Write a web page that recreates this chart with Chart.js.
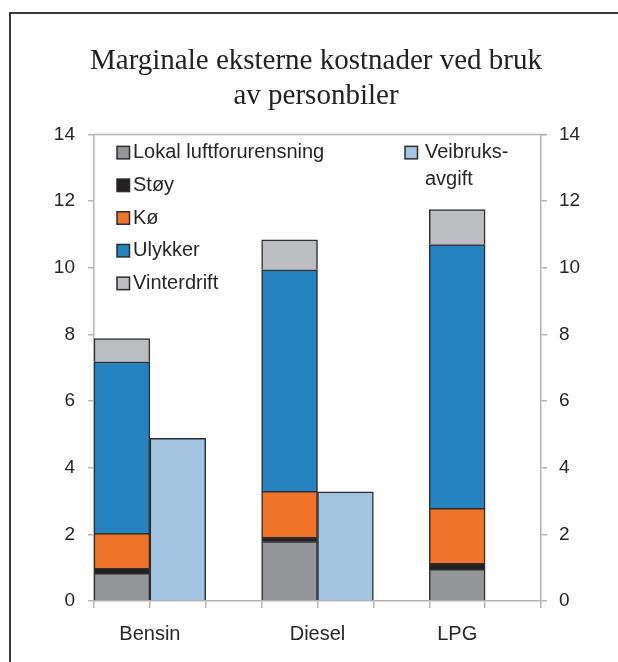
<!DOCTYPE html>
<html>
<head>
<meta charset="utf-8">
<script src="https://cdn.jsdelivr.net/npm/chart.js@4"></script>
<style>
  html, body { margin: 0; padding: 0; background: #fff; }
  #wrap { position: relative; width: 618px; height: 662px; overflow: hidden; }
  #frame { position: absolute; left: 9px; top: 12px; width: 700px; height: 700px;
           border-left: 2px solid #3a3a3a; border-top: 2px solid #3a3a3a; }
  canvas { position: absolute; left: 0; top: 0; }
</style>
</head>
<body>
<div id="wrap">
  <div id="frame"></div>
  <canvas id="chart" width="618" height="662"></canvas>
</div>
<script>
// Data
const categories = ['Bensin', 'Diesel', 'LPG'];
const lokal   = [0.83, 1.78, 0.95];
const stoy    = [0.15, 0.14, 0.18];
const ko      = [1.05, 1.37, 1.65];
const ulykker = [5.15, 6.65, 7.92];
const vinter  = [0.70, 0.90, 1.05];
const veib    = [4.88, 3.28, null];

const seriesNames  = ['Lokal luftforurensning', 'Støy', 'Kø', 'Ulykker', 'Vinterdrift'];
const seriesValues = [lokal, stoy, ko, ulykker, vinter];
const seriesColors = ['#939598', '#231f20', '#f1732a', '#2683c1', '#bcbdc0'];
const veibName  = ['Veibruks-', 'avgift'];
const veibColor = '#a3c5e1';

const axisColor = '#b4b4b4';
const textColor = '#262626';
const edgeColor = '#2e2e2e';
const sansFont = '"Liberation Sans", Arial, sans-serif';

// each category takes three slots: stacked bar, tax bar, gap
const slot = 3;
const stackX = i => i * slot + 0.5;
const veibX = i => i * slot + 1.5;
const labelX = i => veib[i] != null ? i * slot + 1 : i * slot + 0.5;
const xMax = categories.length * slot - 1;

const datasets = seriesValues.map((vals, s) => ({
    label: seriesNames[s],
    data: vals.map((v, i) => ({ x: stackX(i), y: v })),
    backgroundColor: seriesColors[s],
    borderColor: edgeColor,
    borderWidth: 1.5
}));
datasets.push({
    label: veibName.join(''),
    data: veib.map((v, i) => v == null ? null : { x: veibX(i), y: v }).filter(d => d),
    backgroundColor: veibColor,
    borderColor: edgeColor,
    borderWidth: 1.5
});

const topLine = {
    id: 'topLine',
    beforeDatasetsDraw(chart) {
        const { ctx, chartArea: ca } = chart;
        ctx.save();
        ctx.strokeStyle = axisColor;
        ctx.lineWidth = 1.5;
        ctx.beginPath();
        ctx.moveTo(ca.left, ca.top);
        ctx.lineTo(ca.right + 4, ca.top);
        ctx.stroke();
        ctx.restore();
    }
};

const boxLegend = {
    id: 'boxLegend',
    afterDraw(chart) {
        const { ctx, chartArea: ca } = chart;
        const box = 12.5;
        const rowGap = 32.7;
        const drawBox = (x, y, color) => {
            ctx.fillStyle = color;
            ctx.fillRect(x, y - box / 2, box, box);
            ctx.strokeStyle = edgeColor;
            ctx.lineWidth = 1.5;
            ctx.strokeRect(x, y - box / 2, box, box);
        };
        ctx.save();
        ctx.font = '20px ' + sansFont;
        ctx.textBaseline = 'middle';
        ctx.textAlign = 'left';
        seriesNames.forEach((name, i) => {
            const y = ca.top + 18 + i * rowGap;
            drawBox(ca.left + 23, y, seriesColors[i]);
            ctx.fillStyle = textColor;
            ctx.fillText(name, ca.left + 39, y);
        });
        const y0 = ca.top + 18;
        drawBox(ca.left + 311, y0, veibColor);
        ctx.fillStyle = textColor;
        ctx.fillText(veibName[0], ca.left + 331, y0);
        ctx.fillText(veibName[1], ca.left + 331, y0 + 27);
        ctx.restore();
    }
};

const yAxis = (position, padding, width) => ({
    type: 'linear',
    position: position,
    min: 0,
    max: 14,
    stacked: true,
    ticks: {
        stepSize: 2,
        padding: padding,
        color: textColor,
        font: { family: sansFont, size: 19 }
    },
    grid: { drawOnChartArea: false, tickLength: 6, color: axisColor, lineWidth: 1.5 },
    border: { color: axisColor, width: 1.5 },
    afterFit: scale => { scale.width = width; }
});

new Chart(document.getElementById('chart'), {
    type: 'bar',
    data: { datasets },
    options: {
        responsive: false,
        animation: false,
        layout: { padding: { left: 14, right: 0, top: 0, bottom: 0 } },
        categoryPercentage: 1,
        barPercentage: 1,
        plugins: {
            legend: { display: false },
            tooltip: { enabled: false },
            title: {
                display: true,
                text: ['Marginale eksterne kostnader ved bruk', 'av personbiler'],
                color: '#222',
                font: { family: '"Liberation Serif", "Times New Roman", serif', size: 29, weight: 'normal', lineHeight: 1.2 },
                padding: { top: 44, bottom: 21 }
            }
        },
        scales: {
            x: {
                type: 'linear',
                position: 'bottom',
                weight: 0,
                min: 0,
                max: xMax,
                stacked: true,
                offset: false,
                ticks: { stepSize: 1, display: false },
                grid: { offset: false, drawOnChartArea: false, tickLength: 7, color: axisColor, lineWidth: 1.5 },
                border: { color: axisColor, width: 1.5 },
                afterFit: scale => { scale.height = 7; }
            },
            xLabels: {
                type: 'linear',
                position: 'bottom',
                weight: 1,
                min: 0,
                max: xMax,
                offset: false,
                afterBuildTicks: scale => {
                    scale.ticks = categories.map((c, i) => ({ value: labelX(i) }));
                },
                ticks: {
                    autoSkip: false,
                    maxRotation: 0,
                    padding: 6,
                    color: textColor,
                    font: { family: sansFont, size: 20 },
                    callback: (v, idx) => categories[idx]
                },
                grid: { display: false },
                border: { display: false },
                afterFit: scale => { scale.height = 54; }
            },
            y: yAxis('left', 13, 80),
            y2: yAxis('right', 12, 77)
        }
    },
    plugins: [topLine, boxLegend]
});
</script>
</body>
</html>
